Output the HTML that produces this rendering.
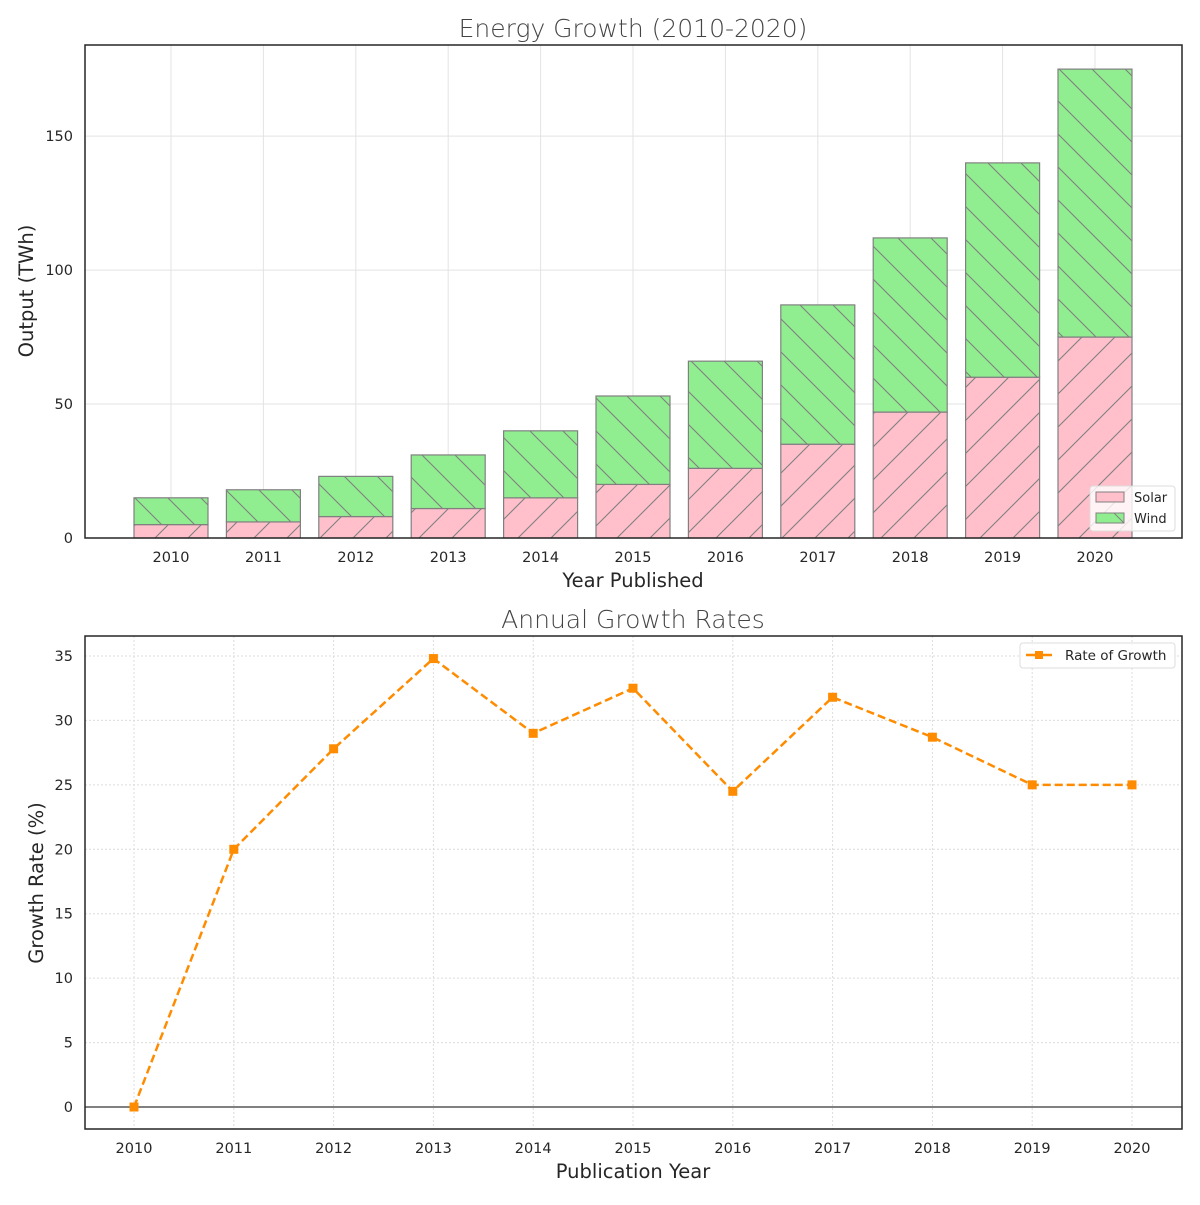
<!DOCTYPE html>
<html><head><meta charset="utf-8"><style>
body{margin:0;background:#fff;}
svg text{font-family:"DejaVu Sans","Liberation Sans",sans-serif;fill:#262626;}
</style></head><body>
<svg id="chart" width="1200" height="1200" xmlns="http://www.w3.org/2000/svg">
<defs>
<pattern id="hatchF" patternUnits="userSpaceOnUse" width="33" height="33">
<path d="M-1,34 L34,-1 M-34,34 L34,-34 M0,66 L66,0" stroke="#808080" stroke-width="1.1"/>
</pattern>
<pattern id="hatchB" patternUnits="userSpaceOnUse" width="33" height="33">
<path d="M-1,-1 L34,34 M0,-33 L66,33 M-33,0 L33,66" stroke="#808080" stroke-width="1.1"/>
</pattern>
</defs>
<g id="top"></g>
<g id="bottom"></g>
</svg>
<script>
const years = [2010,2011,2012,2013,2014,2015,2016,2017,2018,2019,2020];
const solar = [5,6,8,11,15,20,26,35,47,60,75];
const wind = [10,12,15,20,25,33,40,52,65,80,100];
const topTicks = [0,50,100,150];
const growth = [0,20,27.8,34.8,29.0,32.5,24.5,31.8,28.7,25,25];
const bottomTicks = [0,5,10,15,20,25,30,35];

const NS="http://www.w3.org/2000/svg";
function mk(parent,tag,attrs,text){const e=document.createElementNS(NS,tag);for(const k in attrs)e.setAttribute(k,attrs[k]);if(text!==undefined)e.textContent=text;parent.appendChild(e);return e;}

// ---- top chart
const T=document.getElementById('top');
const tL=85,tR=1182,tT=45,tB=538;
const ty=v=>tB-v*(tB-tT)/184;
const tx=i=>171+i*92.4;
const bw=74;
for(let i=0;i<years.length;i++){
  const l=mk(T,'line',{x1:tx(i),x2:tx(i),y1:tT,y2:tB,stroke:'#e3e3e3','stroke-width':1});
  
  
}
topTicks.forEach(v=>{
  const l=mk(T,'line',{x1:tL,x2:tR,y1:ty(v),y2:ty(v),stroke:'#e3e3e3','stroke-width':1});
  
  
  const t=mk(T,'text',{x:tL-12,y:ty(v)+5,'text-anchor':'end','font-size':14.5},v);
  
  
});
years.forEach((yr,i)=>{
  const x=tx(i)-bw/2;
  const s0=ty(0),s1=ty(solar[i]),w1=ty(solar[i]+wind[i]);
  const b1=mk(T,'rect',{x:x,y:s1,width:bw,height:s0-s1,fill:'#ffc0cb'});
  
  
  mk(T,'rect',{x:x,y:s1,width:bw,height:s0-s1,fill:'url(#hatchF)',stroke:'#808080','stroke-width':1.2});
  const b2=mk(T,'rect',{x:x,y:w1,width:bw,height:s1-w1,fill:'#90ee90'});
  
  
  mk(T,'rect',{x:x,y:w1,width:bw,height:s1-w1,fill:'url(#hatchB)',stroke:'#808080','stroke-width':1.2});
  const t=mk(T,'text',{x:tx(i),y:tB+24,'text-anchor':'middle','font-size':14.5},yr);
  
  
});
const tf=mk(T,'rect',{x:tL,y:tT,width:tR-tL,height:tB-tT,fill:'none',stroke:'#262626','stroke-width':1.5});


let e;
e=mk(T,'text',{x:633,y:37,'text-anchor':'middle','font-size':25,style:'fill:#444;font-weight:300'},'Energy Growth (2010-2020)');


e=mk(T,'text',{x:633,y:587,'text-anchor':'middle','font-size':19.5},'Year Published');


e=mk(T,'text',{x:33,y:291,'text-anchor':'middle','font-size':19.5,transform:'rotate(-90 33 291)'},'Output (TWh)');


// legend
const lg=mk(T,'g',{});


mk(lg,'rect',{x:1090,y:486,width:85,height:45,rx:3,fill:'#fff','fill-opacity':0.8,stroke:'#ddd'});
mk(lg,'rect',{x:1096,y:492,width:28,height:10,fill:'#ffc0cb',stroke:'#808080'});
e=mk(lg,'text',{x:1134,y:502,'font-size':13},'Solar');


mk(lg,'rect',{x:1096,y:513,width:28,height:10,fill:'#90ee90',stroke:'#808080'});
mk(lg,'line',{x1:1114,y1:513,x2:1124,y2:523,stroke:'#808080'});
e=mk(lg,'text',{x:1134,y:523,'font-size':13},'Wind');



// ---- bottom chart
const B=document.getElementById('bottom');
const bL=85,bR=1182,bT=636,bBm=1129;
const by=v=>1107-v*(451/35);
const bx=i=>134+i*99.8;
years.forEach((yr,i)=>{
  const l=mk(B,'line',{x1:bx(i),x2:bx(i),y1:bT,y2:bBm,stroke:'#dcdcdc','stroke-width':1,'stroke-dasharray':'2,2'});
  
  
  const t=mk(B,'text',{x:bx(i),y:bBm+24,'text-anchor':'middle','font-size':14.5},yr);
  
  
});
bottomTicks.forEach(v=>{
  const l=mk(B,'line',{x1:bL,x2:bR,y1:by(v),y2:by(v),stroke:'#dcdcdc','stroke-width':1,'stroke-dasharray':'2,2'});
  
  
  const t=mk(B,'text',{x:bL-12,y:by(v)+5,'text-anchor':'end','font-size':14.5},v);
  
  
});
e=mk(B,'line',{x1:bL,x2:bR,y1:by(0),y2:by(0),stroke:'#000','stroke-width':1});


const pts=growth.map((g,i)=>bx(i)+','+by(g)).join(' ');
e=mk(B,'polyline',{points:pts,fill:'none',stroke:'#ff8c00','stroke-width':2.5,'stroke-dasharray':'8,4'});


growth.forEach((g,i)=>{
  const m=mk(B,'rect',{x:bx(i)-4.5,y:by(g)-4.5,width:9,height:9,fill:'#ff8c00'});
  
  
});
e=mk(B,'rect',{x:bL,y:bT,width:bR-bL,height:bBm-bT,fill:'none',stroke:'#262626','stroke-width':1.5});


e=mk(B,'text',{x:633,y:628,'text-anchor':'middle','font-size':25,style:'fill:#444;font-weight:300'},'Annual Growth Rates');


e=mk(B,'text',{x:633,y:1178,'text-anchor':'middle','font-size':19.5},'Publication Year');


e=mk(B,'text',{x:43,y:883,'text-anchor':'middle','font-size':19.5,transform:'rotate(-90 43 883)'},'Growth Rate (%)');


const lg2=mk(B,'g',{});


mk(lg2,'rect',{x:1020,y:643,width:155,height:25,rx:3,fill:'#fff','fill-opacity':0.8,stroke:'#ddd'});
mk(lg2,'line',{x1:1026,x2:1052,y1:655,y2:655,stroke:'#ff8c00','stroke-width':2.5});
mk(lg2,'rect',{x:1035,y:651,width:8,height:8,fill:'#ff8c00'});
e=mk(lg2,'text',{x:1065,y:660,'font-size':13.5},'Rate of Growth');


</script>
</body></html>
